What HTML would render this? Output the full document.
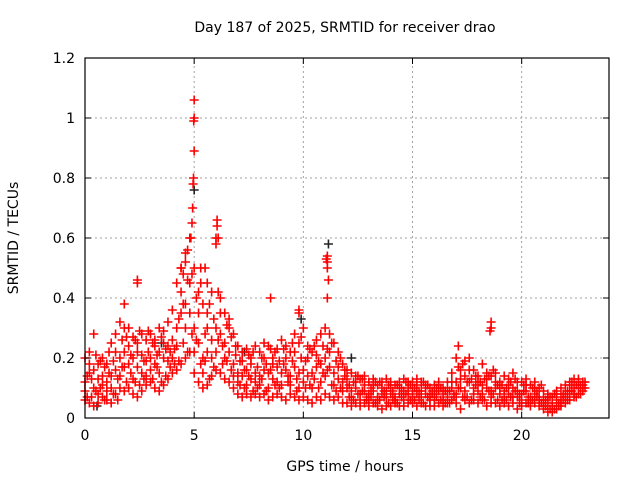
<!DOCTYPE html>
<html><head><meta charset="utf-8"><style>
body{margin:0;background:#fff}
svg{display:block;font-family:"DejaVu Sans","Liberation Sans",sans-serif}
</style></head><body>
<svg id="chart" width="640" height="480">
<text x="345" y="32" font-size="14" text-anchor="middle">Day 187 of 2025, SRMTID for receiver drao</text>
<text x="345" y="471" font-size="14" text-anchor="middle">GPS time / hours</text>
<text transform="translate(18,238) rotate(-90)" font-size="14" text-anchor="middle">SRMTID / TECUs</text>
<g id="grid"></g><g id="marks"></g><g id="axes"></g>
</svg>
<script>
const xTicks=[0,5,10,15,20];
const yTicks=[0,0.2,0.4,0.6,0.8,1,1.2];
const yTickLabels=["0","0.2","0.4","0.6","0.8","1","1.2"];
const timeStep=0.2;
const lowVals=[.06,.05,.04,.05,.07,.06,.05,.08,.10,.09,.10,.08,.07,.09,.11,.12,.10,.09,.11,.13,.15,.16,.18,.20,.22,.15,.12,.10,.11,.14,.16,.15,.13,.12,.10,.08,.07,.08,.07,.08,.07,.08,.06,.07,.08,.07,.06,.08,.07,.06,.07,.06,.05,.07,.06,.08,.07,.06,.07,.05,.05,.04,.05,.04,.05,.04,.05,.04,.03,.04,.04,.05,.04,.04,.05,.05,.04,.05,.04,.04,.04,.05,.04,.05,.06,.05,.03,.06,.05,.06,.05,.06,.04,.05,.05,.04,.05,.04,.05,.03,.04,.05,.04,.05,.04,.03,.02,.02,.03,.04,.05,.06,.07,.08,.09];
const midVals=[.12,.15,.10,.13,.14,.12,.14,.16,.20,.22,.18,.20,.17,.15,.19,.20,.18,.22,.20,.24,.26,.30,.35,.38,.45,.30,.25,.20,.22,.26,.30,.28,.25,.22,.18,.15,.14,.16,.13,.15,.14,.16,.15,.13,.17,.15,.16,.14,.17,.15,.16,.14,.15,.17,.18,.20,.17,.15,.13,.12,.10,.09,.10,.08,.09,.08,.09,.07,.08,.09,.08,.07,.08,.09,.08,.09,.08,.09,.08,.07,.08,.09,.08,.09,.10,.12,.10,.14,.12,.10,.09,.11,.10,.09,.10,.08,.09,.08,.10,.07,.08,.09,.07,.08,.07,.06,.05,.05,.06,.07,.08,.09,.10,.10,.11];
const highVals=[.20,.22,.28,.18,.20,.18,.25,.28,.32,.30,.30,.27,.25,.28,.26,.28,.26,.30,.29,.32,.36,.45,.50,.52,.60,.50,.42,.38,.35,.42,.60,.40,.35,.33,.28,.24,.22,.23,.20,.24,.22,.25,.24,.20,.23,.26,.24,.22,.28,.25,.30,.24,.22,.26,.28,.30,.28,.25,.22,.18,.16,.15,.14,.13,.14,.12,.13,.11,.12,.13,.12,.11,.12,.13,.12,.12,.13,.12,.11,.10,.11,.12,.10,.12,.15,.20,.16,.19,.20,.16,.14,.18,.15,.14,.15,.12,.14,.13,.15,.12,.12,.13,.11,.12,.10,.09,.08,.07,.09,.10,.11,.12,.13,.13,.12];
const altVals=[.09,.18,.16,.08,.11,.09,.10,.22,.14,.17,.24,.13,.22,.21,.14,.16,.24,.15,.25,.19,.20,.24,.42,.30,.35,.22,.35,.15,.30,.20,.22,.35,.20,.30,.14,.12,.19,.11,.18,.12,.11,.20,.10,.18,.12,.11,.20,.11,.22,.10,.12,.20,.10,.21,.12,.14,.22,.11,.17,.09,.13,.07,.12,.06,.11,.06,.11,.06,.10,.07,.10,.06,.10,.06,.10,.07,.11,.07,.10,.06,.06,.11,.06,.07,.12,.08,.13,.09,.16,.08,.12,.08,.13,.07,.12,.10,.07,.11,.07,.09,.06,.11,.06,.10,.06,.04,.07,.04,.08,.05,.07,.11,.08,.12,.10];
const extraAVals=[.14,.07,.21,.10,.17,.22,.08,.13,.26,.12,.15,.26,.11,.19,.29,.13,.21,.27,.14,.22,.18,.33,.25,.46,.28,.40,.18,.28,.13,.33,.26,.18,.31,.16,.24,.19,.10,.21,.09,.17,.20,.09,.16,.22,.10,.18,.12,.25,.09,.20,.10,.23,.13,.19,.24,.16,.25,.09,.20,.14,.07,.12,.08,.13,.06,.10,.05,.12,.07,.11,.06,.11,.07,.12,.06,.10,.06,.12,.07,.09,.07,.10,.05,.09,.08,.17,.07,.12,.06,.14,.07,.13,.09,.16,.06,.11,.06,.12,.09,.05,.09,.05,.10,.07,.11,.06,.03,.08,.04,.06,.09,.12,.07,.11,.10];
const extraBVals=[.07,.13,.09,.19,.06,.15,.19,.06,.17,.27,.21,.12,.29,.13,.22,.25,.17,.12,.23,.17,.23,.19,.38,.22,.48,.26,.45,.19,.38,.17,.42,.24,.19,.27,.21,.11,.16,.14,.22,.10,.13,.18,.23,.11,.19,.23,.14,.19,.13,.27,.19,.11,.24,.10,.15,.23,.11,.19,.10,.16,.11,.06,.14,.09,.07,.07,.12,.06,.09,.05,.09,.05,.10,.08,.11,.06,.09,.05,.11,.08,.10,.06,.09,.05,.07,.10,.18,.07,.13,.11,.12,.06,.14,.08,.11,.06,.10,.07,.13,.08,.11,.07,.06,.09,.05,.04,.07,.03,.05,.08,.06,.09,.11,.08,.12];
const spikeTimes=[5.0,5.0,4.98,5.0,4.97,4.95,4.93,4.9,4.85,6.05,6.05,6.1,6.0,11.1,11.05,11.1,11.1,11.15,11.1,2.4,2.4,1.8,8.5,9.8,9.8,18.6,18.6,18.55,17.1,4.4,4.5,4.6,5.5,5.6,4.7,5.3];
const spikeVals=[1.06,1.0,0.99,0.89,0.8,0.78,0.7,0.65,0.6,0.66,0.64,0.6,0.58,0.54,0.53,0.52,0.5,0.46,0.4,0.46,0.45,0.38,0.4,0.36,0.35,0.32,0.3,0.29,0.24,0.5,0.48,0.55,0.5,0.45,0.56,0.5];
const blackTimes=[5.0,11.15,0.55,3.5,12.2,9.9,7.3];
const blackVals=[0.76,0.58,0.04,0.25,0.2,0.33,0.22];

const X0=85,X1=609,Y0=418,Y1=58,XMAX=24,YMAX=1.2;
const xs=t=>X0+t/XMAX*(X1-X0);
const ys=v=>Y0-v/YMAX*(Y0-Y1);
const NS="http://www.w3.org/2000/svg";
function mk(tag,attrs,parent){const e=document.createElementNS(NS,tag);for(const k in attrs)e.setAttribute(k,attrs[k]);parent.appendChild(e);return e;}
const grid=document.getElementById('grid'),marks=document.getElementById('marks'),axes=document.getElementById('axes');
yTicks.forEach((v,i)=>{
  const y=ys(v);
  if(i>0&&i<yTicks.length-1){const g=mk('line',{x1:X0,x2:X1,y1:y,y2:y,stroke:'#a0a0a0','stroke-dasharray':'2,3'},grid);
  
  }
  const t=mk('text',{x:X0-10,y:y+5,'font-size':14,'text-anchor':'end'},axes);t.textContent=yTickLabels[i];
  
  
  mk('line',{x1:X0,x2:X0+6,y1:y,y2:y,stroke:'#000'},axes);
  mk('line',{x1:X1,x2:X1-6,y1:y,y2:y,stroke:'#000'},axes);
});
xTicks.forEach((v,i)=>{
  const x=xs(v);
  if(i>0){const g=mk('line',{x1:x,x2:x,y1:Y0,y2:Y1,stroke:'#a0a0a0','stroke-dasharray':'2,3'},grid);
  
  }
  const t=mk('text',{x:x,y:Y0+22,'font-size':14,'text-anchor':'middle'},axes);t.textContent=String(v);
  
  
  mk('line',{x1:x,x2:x,y1:Y0,y2:Y0-6,stroke:'#000'},axes);
  mk('line',{x1:x,x2:x,y1:Y1,y2:Y1+6,stroke:'#000'},axes);
});
const frame=mk('rect',{x:X0,y:Y1,width:X1-X0,height:Y0-Y1,fill:'none',stroke:'#000','stroke-width':1.2},axes);


function cross(t,v,col){
  const x=xs(t),y=ys(v);
  const p=mk('path',{d:`M${x-4.5},${y}h9M${x},${y-4.5}v9`,stroke:col,'stroke-width':1.6,fill:'none'},marks);
  
  
}
blackTimes.forEach((t,i)=>cross(t,blackVals[i],'#222'));
[lowVals,midVals,highVals,altVals].forEach(arr=>arr.forEach((v,i)=>cross(i*timeStep,v,'#f00')));
[extraAVals,extraBVals].forEach(arr=>arr.forEach((v,i)=>cross(i*timeStep+timeStep/2,v,'#f00')));
spikeTimes.forEach((t,i)=>cross(t,spikeVals[i],'#f00'));
</script>
</body></html>
